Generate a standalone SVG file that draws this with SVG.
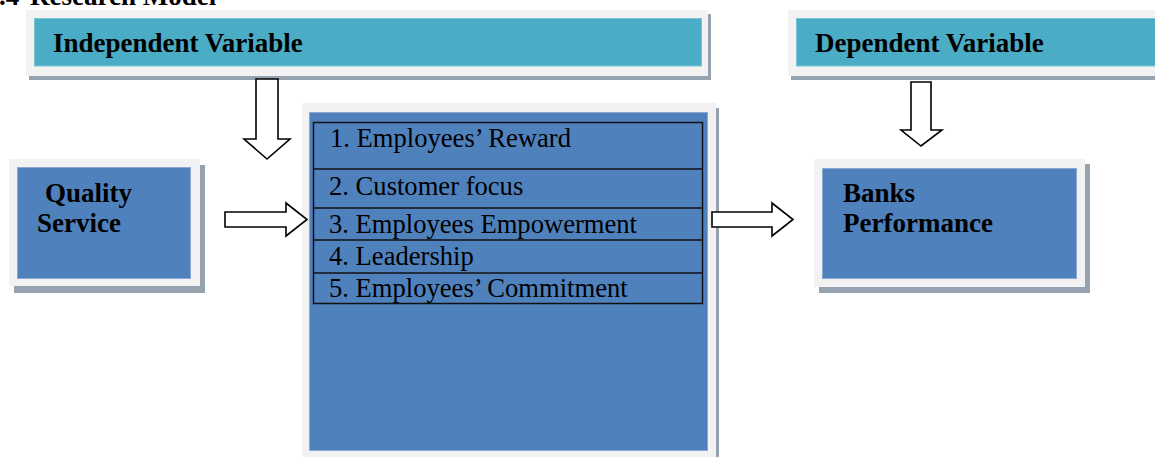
<svg xmlns="http://www.w3.org/2000/svg" width="1155" height="457" viewBox="0 0 1155 457">
  <style>
    .shadow { fill: #95a3b0; }
    .frame { fill: #f2f2f2; }
    .teal { fill: #4bacc6; stroke: #7cc3d6; stroke-width: 1; }
    .blue { fill: #4f81bd; stroke: #8aa8d4; stroke-width: 1; }
    .bold { font-family: "Liberation Serif", "Times New Roman", serif; font-weight: bold; font-size: 27px; fill: #000; }
    .item { font-family: "Liberation Serif", "Times New Roman", serif; font-size: 26.6px; fill: #000; }
    .grid { fill: none; stroke: #111; stroke-width: 1.5; }
    .arrow { fill: #fff; stroke: #000; stroke-width: 1.6; stroke-linejoin: miter; }
  </style>
  <rect width="1155" height="457" fill="#fff"/>

  <!-- section heading, mostly above the top edge -->
  <text class="bold" y="5"><tspan x="-1">.4</tspan><tspan x="30">Research Model</tspan></text>

  <g id="independent-variable">
    <rect class="shadow" x="29" y="14" width="682" height="66"/>
    <rect class="frame" x="26" y="10" width="682" height="66"/>
    <rect class="teal" x="34.5" y="18.5" width="667" height="47.5"/>
    <text class="bold" x="53" y="52">Independent Variable</text>
  </g>

  <g id="dependent-variable">
    <rect class="shadow" x="791" y="14" width="400" height="66"/>
    <rect class="frame" x="788" y="10" width="400" height="66"/>
    <rect class="teal" x="796.5" y="18.5" width="380" height="47.5"/>
    <text class="bold" x="815" y="52">Dependent Variable</text>
  </g>

  <g id="quality-service">
    <rect class="shadow" x="14" y="165" width="191" height="128"/>
    <rect class="frame" x="9" y="159" width="191" height="127"/>
    <rect class="blue" x="17.5" y="167.5" width="173" height="111"/>
    <text class="bold" x="45" y="202">Quality</text>
    <text class="bold" x="37" y="232">Service</text>
  </g>

  <g id="factors">
    <rect class="shadow" x="305" y="108" width="414" height="360"/>
    <rect class="frame" x="302" y="103" width="414" height="360"/>
    <rect class="blue" x="309.5" y="112.5" width="398" height="338"/>
    <rect class="grid" x="313.5" y="122.5" width="389" height="181"/>
    <line class="grid" x1="313.5" y1="169" x2="702.5" y2="169"/>
    <line class="grid" x1="313.5" y1="208" x2="702.5" y2="208"/>
    <line class="grid" x1="313.5" y1="240" x2="702.5" y2="240"/>
    <line class="grid" x1="313.5" y1="273" x2="702.5" y2="273"/>
    <text class="item" x="330" y="147">1. Employees’ Reward</text>
    <text class="item" x="329" y="195">2. Customer focus</text>
    <text class="item" x="329" y="233">3. Employees Empowerment</text>
    <text class="item" x="329" y="265">4. Leadership</text>
    <text class="item" x="329" y="297">5. Employees’ Commitment</text>
  </g>

  <g id="banks-performance">
    <rect class="shadow" x="819" y="164" width="271" height="129"/>
    <rect class="frame" x="814" y="159" width="271" height="128"/>
    <rect class="blue" x="822.5" y="168.5" width="254" height="110"/>
    <text class="bold" x="843" y="202">Banks</text>
    <text class="bold" x="843" y="232">Performance</text>
  </g>

  <g id="connectors">
    <polygon class="arrow" points="256,79 278,79 278,139 290,139 267,159 244,139 256,139"/>
    <polygon class="arrow" points="911,82 931,82 931,130 942,130 921,146 901,130 911,130"/>
    <polygon class="arrow" points="225,212 286,212 286,203 307,219.5 286,236 286,227 225,227"/>
    <polygon class="arrow" points="712,212 772,212 772,203 793,219.5 772,236 772,227 712,227"/>
  </g>
</svg>
